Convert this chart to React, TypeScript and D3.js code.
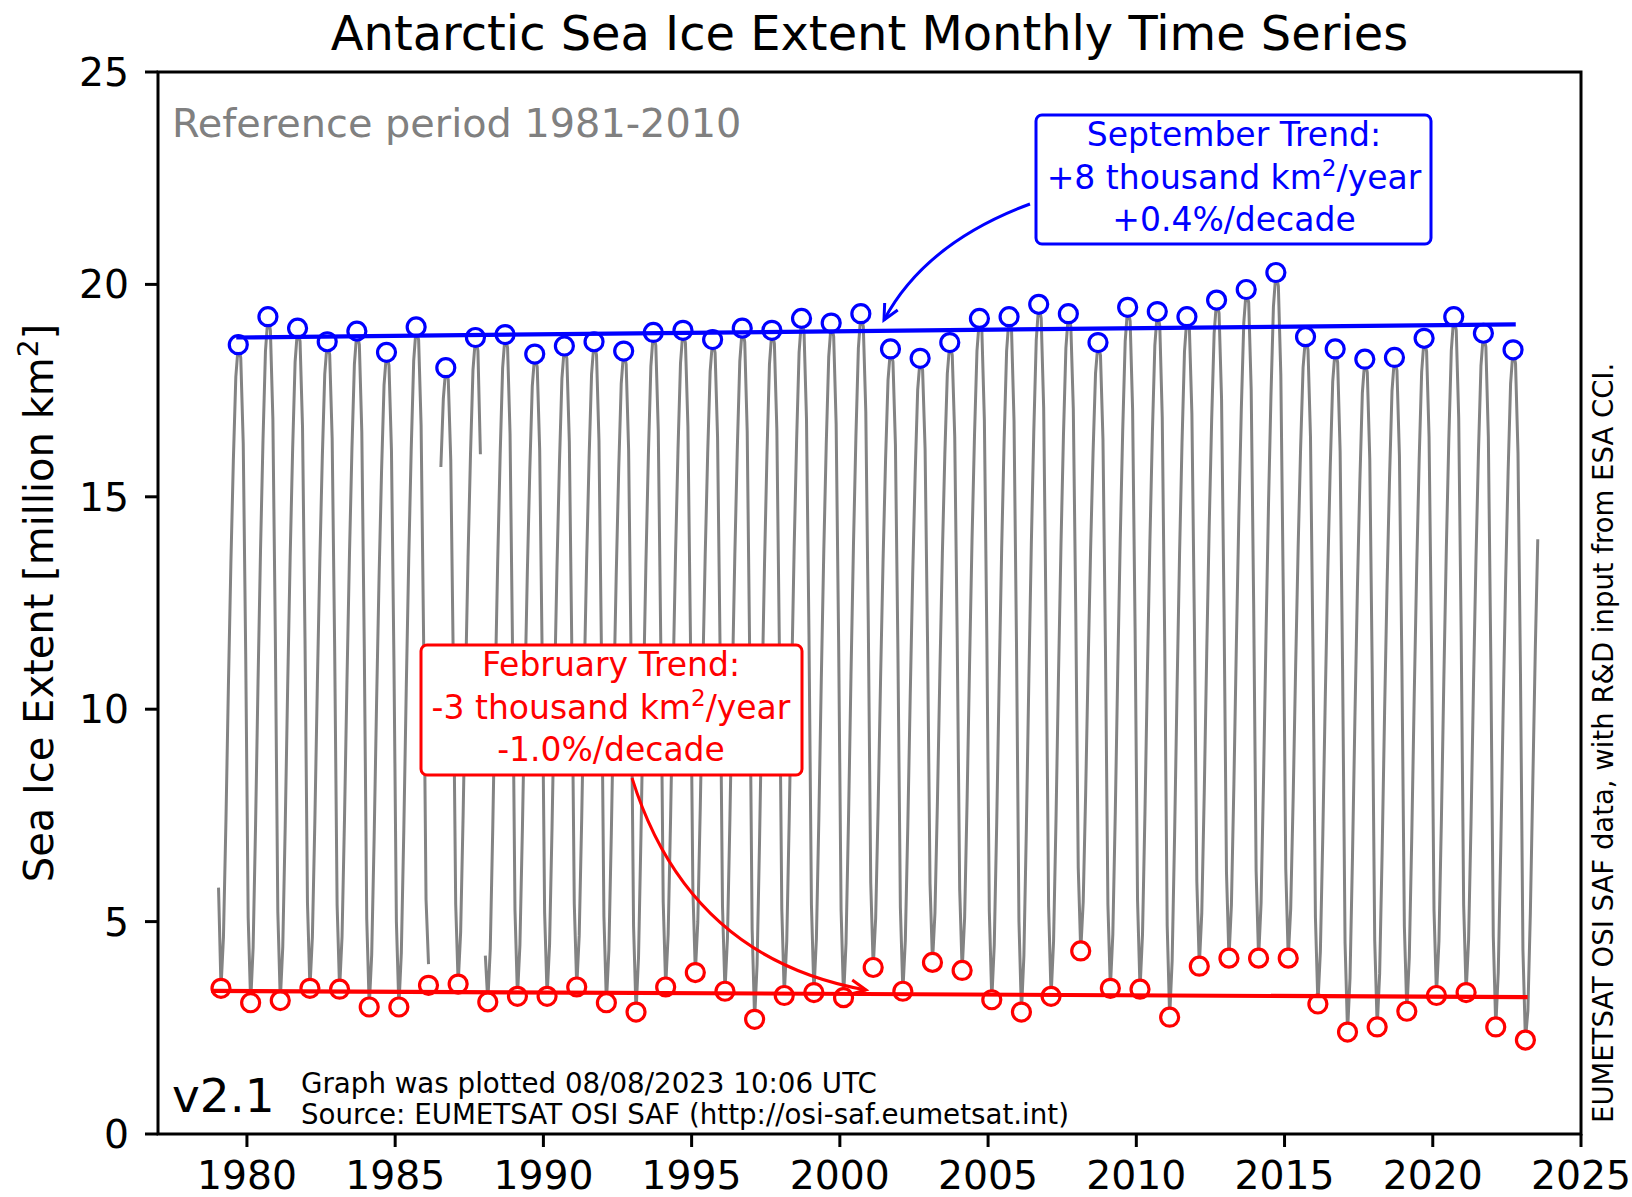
import React from 'react';
import * as d3 from 'd3';

// ---------- data ----------
const SEP_YEARS = d3.range(1979, 2023);
const SEP_MAX = [18.58, 19.24, 18.97, 18.65, 18.9, 18.4, 19.0, 18.04, 18.75, 18.82, 18.36, 18.55, 18.65, 18.43, 18.87, 18.92, 18.7, 18.97, 18.92, 19.2, 19.09, 19.31, 18.48, 18.26, 18.63, 19.2, 19.24, 19.53, 19.31, 18.63, 19.46, 19.36, 19.24, 19.63, 19.88, 20.28, 18.77, 18.48, 18.24, 18.28, 18.73, 19.24, 18.85, 18.46];
const FEB_YEARS = d3.range(1979, 2024);
const FEB_MIN = [3.43, 3.09, 3.14, 3.43, 3.41, 2.99, 2.99, 3.5, 3.53, 3.11, 3.24, 3.24, 3.46, 3.09, 2.87, 3.46, 3.8, 3.36, 2.7, 3.26, 3.33, 3.21, 3.92, 3.36, 4.04, 3.85, 3.16, 2.87, 3.24, 4.31, 3.43, 3.41, 2.75, 3.95, 4.14, 4.14, 4.14, 3.06, 2.4, 2.52, 2.89, 3.26, 3.33, 2.52, 2.21];
// typical seasonal cycle (fraction of the way from February minimum to September maximum), Jan..Dec
const SEASONAL_SHAPE = [0.13, 0, 0.08, 0.26, 0.47, 0.66, 0.82, 0.95, 1, 0.98, 0.85, 0.53];
const MONTH_OVERRIDES: [string, number][] = [
  ['1979-01', 5.8], ['1986-02', 4.0], ['1986-07', 15.7], ['1987-11', 16.0], ['1988-01', 4.2],
  ['2023-03', 2.9], ['2023-04', 5.2], ['2023-05', 8.3], ['2023-06', 11.4], ['2023-07', 14.0],
];
const GAP_MONTHS = ['1986-03', '1986-04', '1986-05', '1986-06', '1987-12'];
const SERIES_START: [number, number] = [1979, 1];
const SERIES_END: [number, number] = [2023, 7];

const SEP_TREND: [number, number][] = [[1979.64, 18.75], [2022.8, 19.06]];
const FEB_TREND: [number, number][] = [[1978.8, 3.37], [2023.2, 3.22]];

const X_TICKS = d3.range(1980, 2026, 5);
const Y_TICKS = d3.range(0, 26, 5);

const TITLE = 'Antarctic Sea Ice Extent Monthly Time Series';
const REF_TEXT = 'Reference period 1981-2010';
const SIDE_TEXT = 'EUMETSAT OSI SAF data, with R&D input from ESA CCI.';
const VERSION = 'v2.1';
const FOOT_LINES = ['Graph was plotted 08/08/2023 10:06 UTC', 'Source: EUMETSAT OSI SAF (http://osi-saf.eumetsat.int)'];
const SEP_BOX = ['September Trend:', '+8 thousand km', '/year', '+0.4%/decade'];
const FEB_BOX = ['February Trend:', '-3 thousand km', '/year', '-1.0%/decade'];

// ---------- build monthly series ----------
const key = (y: number, m: number) => `${y}-${String(m).padStart(2, '0')}`;
const overrides = new Map(MONTH_OVERRIDES);
const gaps = new Set(GAP_MONTHS);
const sepOf = (y: number) => SEP_MAX[SEP_YEARS.indexOf(y)];
const febOf = (y: number) => FEB_MIN[FEB_YEARS.indexOf(y)];

type Pt = { t: number; v: number | null };
const monthly: Pt[] = [];
for (let y = SERIES_START[0]; y <= SERIES_END[0]; y++) {
  for (let m = 1; m <= 12; m++) {
    if (y === SERIES_START[0] && m < SERIES_START[1]) continue;
    if (y === SERIES_END[0] && m > SERIES_END[1]) continue;
    const k = key(y, m);
    const t = y + (m - 0.5) / 12;
    if (gaps.has(k)) { monthly.push({ t, v: null }); continue; }
    let v: number;
    if (overrides.has(k)) v = overrides.get(k)!;
    else if (m === 2) v = febOf(y);
    else if (m >= 3 && m <= 9) v = febOf(y) + SEASONAL_SHAPE[m - 1] * (sepOf(y) - febOf(y));
    else if (m >= 10) v = febOf(y + 1) + SEASONAL_SHAPE[m - 1] * (sepOf(y) - febOf(y + 1));
    else v = febOf(y) + SEASONAL_SHAPE[0] * (sepOf(y - 1) - febOf(y));
    monthly.push({ t, v });
  }
}

const W = 1632, H = 1197;
const x = d3.scaleLinear().domain([1977, 2025]).range([158, 1581]);
const y = d3.scaleLinear().domain([0, 25]).range([1134, 72]);

const FONT = 'DejaVu Sans, Verdana, sans-serif';
const BLUE = '#0000ff';
const RED = '#ff0000';

function arrowPath(p0: [number, number], c: [number, number], p2: [number, number]) {
  const dx = p2[0] - c[0], dy = p2[1] - c[1];
  const a = Math.atan2(dy, dx);
  const L = 17, spread = 0.45;
  const h1: [number, number] = [p2[0] - L * Math.cos(a - spread), p2[1] - L * Math.sin(a - spread)];
  const h2: [number, number] = [p2[0] - L * Math.cos(a + spread), p2[1] - L * Math.sin(a + spread)];
  const curve = `M${p0[0]},${p0[1]} Q${c[0]},${c[1]} ${p2[0]},${p2[1]}`;
  const head = `M${h1[0]},${h1[1]} L${p2[0]},${p2[1]} L${h2[0]},${h2[1]}`;
  return { curve, head };
}

function TrendBox({ lines, x0, y0, w, h, color, cx, baselines, size }: any) {
  return (
    <g>
      <rect x={x0} y={y0} width={w} height={h} rx={6} ry={6} fill="white" stroke={color} strokeWidth={3} />
      <text x={cx} y={baselines[0]} fill={color} fontSize={size} textAnchor="middle" fontFamily={FONT}>{lines[0]}</text>
      <text x={cx} y={baselines[1]} fill={color} fontSize={size} textAnchor="middle" fontFamily={FONT}>
        {lines[1]}
        <tspan fontSize={size * 0.7} dy={-size * 0.38}>2</tspan>
        <tspan dy={size * 0.38}>{lines[2]}</tspan>
      </text>
      <text x={cx} y={baselines[2]} fill={color} fontSize={size} textAnchor="middle" fontFamily={FONT}>{lines[3]}</text>
    </g>
  );
}

export default function App() {
  const line = d3.line<Pt>()
    .defined(d => d.v !== null)
    .x(d => x(d.t))
    .y(d => y(d.v as number));

  const sepPts = SEP_YEARS.map((yr, i) => ({ t: yr + 8.5 / 12, v: SEP_MAX[i] }));
  const febPts = FEB_YEARS.map((yr, i) => ({ t: yr + 1.5 / 12, v: FEB_MIN[i] }));
  const trendLine = d3.line<[number, number]>().x(d => x(d[0])).y(d => y(d[1]));

  const blueArrow = arrowPath([1030, 204], [925, 243], [884, 320]);
  const redArrow = arrowPath([632, 778], [688, 958], [866, 990]);

  const [x0, x1] = x.range();
  const [yb, yt] = y.range();

  return (
    <svg width={W} height={H} viewBox={`0 0 ${W} ${H}`} style={{ position: 'absolute', left: 0, top: 0, background: 'white' }}>
      <rect x={0} y={0} width={W} height={H} fill="white" />
      {/* monthly series */}
      <path d={line(monthly) || ''} fill="none" stroke="#838383" strokeWidth={3} strokeLinejoin="round" />
      {/* markers */}
      {sepPts.map((d, i) => (
        <circle key={'s' + i} cx={x(d.t)} cy={y(d.v)} r={9} fill="white" stroke={BLUE} strokeWidth={3.2} />
      ))}
      {febPts.map((d, i) => (
        <circle key={'f' + i} cx={x(d.t)} cy={y(d.v)} r={9} fill="white" stroke={RED} strokeWidth={3.2} />
      ))}
      {/* trends */}
      <path d={trendLine(SEP_TREND) || ''} stroke={BLUE} strokeWidth={4.2} fill="none" />
      <path d={trendLine(FEB_TREND) || ''} stroke={RED} strokeWidth={4.2} fill="none" />

      {/* arrows */}
      <path d={blueArrow.curve} stroke={BLUE} strokeWidth={3} fill="none" />
      <path d={blueArrow.head} stroke={BLUE} strokeWidth={3} fill="none" />
      <path d={redArrow.curve} stroke={RED} strokeWidth={3} fill="none" />
      <path d={redArrow.head} stroke={RED} strokeWidth={3} fill="none" />

      {/* boxes */}
      <TrendBox lines={SEP_BOX} x0={1036} y0={115} w={395} h={129} color={BLUE} cx={1234} baselines={[146, 189, 231]} size={33} />
      <TrendBox lines={FEB_BOX} x0={421} y0={645} w={381} h={130} color={RED} cx={611} baselines={[676, 719, 761]} size={33} />

      {/* texts inside axes */}
      <text x={172} y={137} fontSize={39.8} fill="#808080" fontFamily={FONT}>{REF_TEXT}</text>
      <text x={172} y={1112} fontSize={47} fill="#000" fontFamily={FONT}>{VERSION}</text>
      {FOOT_LINES.map((t, i) => (
        <text key={i} x={301} y={1093 + i * 31} fontSize={27.7} fill="#000" fontFamily={FONT}>{t}</text>
      ))}

      {/* frame */}
      <rect x={x0} y={yt} width={x1 - x0} height={yb - yt} fill="none" stroke="#000" strokeWidth={3} />

      {/* x ticks */}
      {X_TICKS.map(t => (
        <g key={t}>
          <line x1={x(t)} x2={x(t)} y1={yb} y2={yb + 13} stroke="#000" strokeWidth={3} />
          <text x={x(t)} y={1189} fontSize={39.3} textAnchor="middle" fontFamily={FONT}>{t}</text>
        </g>
      ))}
      {/* y ticks */}
      {Y_TICKS.map(t => (
        <g key={t}>
          <line x1={x0} x2={x0 - 13} y1={y(t)} y2={y(t)} stroke="#000" strokeWidth={3} />
          <text x={129} y={y(t) + 14} fontSize={39.3} textAnchor="end" fontFamily={FONT}>{t}</text>
        </g>
      ))}

      {/* title */}
      <text x={(x0 + x1) / 2} y={50} fontSize={47.9} textAnchor="middle" fontFamily={FONT}>{TITLE}</text>

      {/* y label */}
      <text transform={`translate(53, ${(yb + yt) / 2}) rotate(-90)`} fontSize={40} textAnchor="middle" fontFamily={FONT}>
        Sea Ice Extent [million km<tspan fontSize={28} dy={-15}>2</tspan><tspan dy={15}>]</tspan>
      </text>

      {/* side text */}
      <text transform={`translate(1613, 1123) rotate(-90)`} fontSize={27.5} textAnchor="start" fontFamily={FONT}>{SIDE_TEXT}</text>
    </svg>
  );
}
